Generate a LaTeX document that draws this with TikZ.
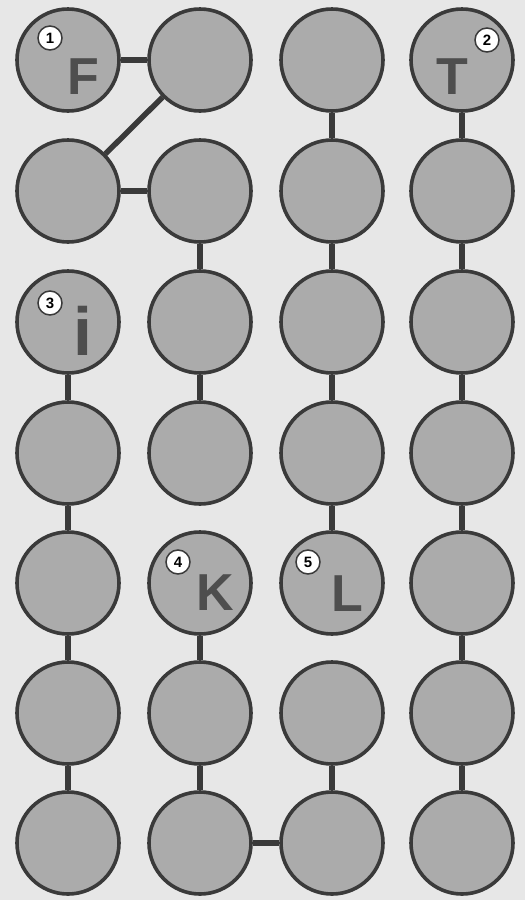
\documentclass[tikz,border=0pt]{standalone}
\usepackage{fontspec}
\setsansfont{Liberation Sans}
\usetikzlibrary{positioning}
\definecolor{boardgray}{HTML}{E7E7E7}
\definecolor{discfill}{HTML}{ABABAB}
\definecolor{discedge}{HTML}{3A3A3A}
\definecolor{lettergray}{HTML}{4E4E4E}

\begin{document}
\begin{tikzpicture}[x=1pt,y=-1pt,font=\sffamily,disc/.style={circle,draw=discedge,fill=discfill,line width=3.6pt,minimum size=102pt,inner sep=0pt},link/.style={discedge,line width=5.5pt},letter/.style={text=lettergray,inner sep=0pt,font=\sffamily\bfseries\fontsize{52}{52}\selectfont},badge/.style={circle,draw=discedge,fill=white,line width=1.5pt,minimum size=24pt,inner sep=0pt,font=\sffamily\bfseries\fontsize{15}{15}\selectfont}]
\fill[boardgray] (0,0) rectangle (525,900);
\useasboundingbox (0,0) rectangle (525,900);
\node[disc] (a1) at (68,60) {};
\node[disc] (a2) at (200,60) {};
\node[disc] (a3) at (332,60) {};
\node[disc] (a4) at (462,60) {};
\node[disc] (b1) at (68,191) {};
\node[disc] (b2) at (200,191) {};
\node[disc] (b3) at (332,191) {};
\node[disc] (b4) at (462,191) {};
\node[disc] (c1) at (68,322) {};
\node[disc] (c2) at (200,322) {};
\node[disc] (c3) at (332,322) {};
\node[disc] (c4) at (462,322) {};
\node[disc] (d1) at (68,453) {};
\node[disc] (d2) at (200,453) {};
\node[disc] (d3) at (332,453) {};
\node[disc] (d4) at (462,453) {};
\node[disc] (e1) at (68,583) {};
\node[disc] (e2) at (200,583) {};
\node[disc] (e3) at (332,583) {};
\node[disc] (e4) at (462,583) {};
\node[disc] (f1) at (68,713) {};
\node[disc] (f2) at (200,713) {};
\node[disc] (f3) at (332,713) {};
\node[disc] (f4) at (462,713) {};
\node[disc] (g1) at (68,843) {};
\node[disc] (g2) at (200,843) {};
\node[disc] (g3) at (332,843) {};
\node[disc] (g4) at (462,843) {};
\draw[link] (a1) -- (a2);
\draw[link] (a2) -- (b1);
\draw[link] (b1) -- (b2);
\draw[link] (a3) -- (b3);
\draw[link] (a4) -- (b4);
\draw[link] (b2) -- (c2);
\draw[link] (b3) -- (c3);
\draw[link] (b4) -- (c4);
\draw[link] (c1) -- (d1);
\draw[link] (c2) -- (d2);
\draw[link] (c3) -- (d3);
\draw[link] (c4) -- (d4);
\draw[link] (d1) -- (e1);
\draw[link] (d3) -- (e3);
\draw[link] (d4) -- (e4);
\draw[link] (e1) -- (f1);
\draw[link] (e2) -- (f2);
\draw[link] (e4) -- (f4);
\draw[link] (f1) -- (g1);
\draw[link] (f2) -- (g2);
\draw[link] (f3) -- (g3);
\draw[link] (f4) -- (g4);
\draw[link] (g2) -- (g3);
\node[letter] (letF) at (83,77) {F};
\node[letter] (letT) at (452,77) {T};
\node[letter,font=\sffamily\bfseries\fontsize{68}{68}\selectfont] (letI) at (83,331) {i};
\node[letter] (letK) at (215,593) {K};
\node[letter] (letL) at (347,594) {L};
\node[badge] (num1) at (50,38) {1};
\node[badge] (num2) at (487,40) {2};
\node[badge] (num3) at (50,303) {3};
\node[badge] (num4) at (178,562) {4};
\node[badge] (num5) at (308,562) {5};
\end{tikzpicture}
\end{document}
